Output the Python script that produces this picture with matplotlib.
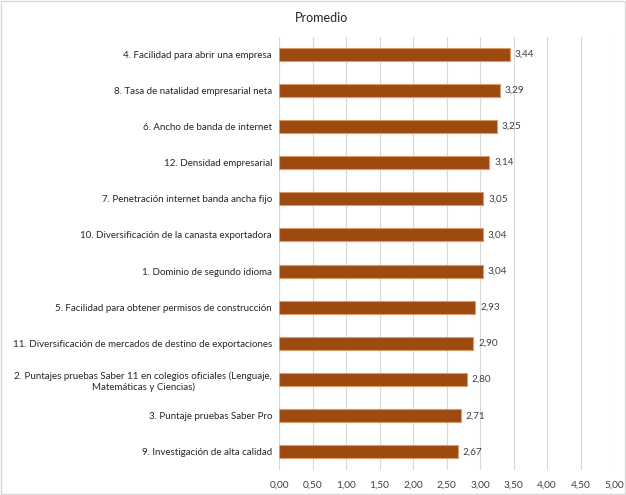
import matplotlib.pyplot as plt
from matplotlib.patches import Rectangle

labels = [
    "4. Facilidad para abrir una empresa",
    "8. Tasa de natalidad empresarial neta",
    "6. Ancho de banda de internet",
    "12. Densidad empresarial",
    "7. Penetración internet banda ancha fijo",
    "10. Diversificación de la canasta exportadora",
    "1. Dominio de segundo idioma",
    "5. Facilidad para obtener permisos de construcción",
    "11. Diversificación de mercados de destino de exportaciones",
    "2. Puntajes pruebas Saber 11 en colegios oficiales (Lenguaje,\nMatemáticas y Ciencias)",
    "3. Puntaje pruebas Saber Pro",
    "9. Investigación de alta calidad",
]
values = [3.44, 3.29, 3.25, 3.14, 3.05, 3.04, 3.04, 2.93, 2.90, 2.80, 2.71, 2.67]
xticks = [0, 0.5, 1.0, 1.5, 2.0, 2.5, 3.0, 3.5, 4.0, 4.5, 5.0]

plt.rcParams['font.family'] = ['Lato', 'DejaVu Sans']

fig = plt.figure(figsize=(6.26, 4.95), dpi=100)
ax = fig.add_axes([0.4457, 0.0505, 0.5353, 0.8745])

ypos = list(range(len(values)))
ax.barh(ypos, values, height=0.36, color='#9c4a10', edgecolor='#d99a6c', linewidth=0.8, zorder=3)
for y, v in zip(ypos, values):
    ax.text(v + 0.07, y, f"{v:.2f}".replace('.', ','), va='center', ha='left',
            fontsize=7.2, color='#404040')

ax.set_xlim(0, 5)
ax.set_ylim(len(values) - 0.5, -0.47)
ax.set_xticks(xticks)
ax.set_xticklabels([f"{t:.2f}".replace('.', ',') for t in xticks], fontsize=7.3, color='#404040')
ax.set_yticks(ypos)
ax.set_yticklabels(labels, fontsize=7, color='#262626', ha='right', multialignment='center')
ax.tick_params(axis='y', length=0, pad=5)
ax.tick_params(axis='x', length=0, pad=8)
ax.grid(axis='x', color='#d9d9d9', linewidth=0.8, zorder=0)
for s in ax.spines.values():
    s.set_visible(False)
ax.axvline(0, color='#d9d9d9', linewidth=0.8, zorder=1)

fig.text(322 / 626, 1 - 18 / 495, "Promedio", ha='center', va='center', fontsize=9, color='#262626')
fig.patches.append(Rectangle((0.002, 0.002), 0.996, 0.996, transform=fig.transFigure,
                             fill=False, edgecolor='#d9d9d9', linewidth=1))

fig.savefig("out.png", dpi=100)
